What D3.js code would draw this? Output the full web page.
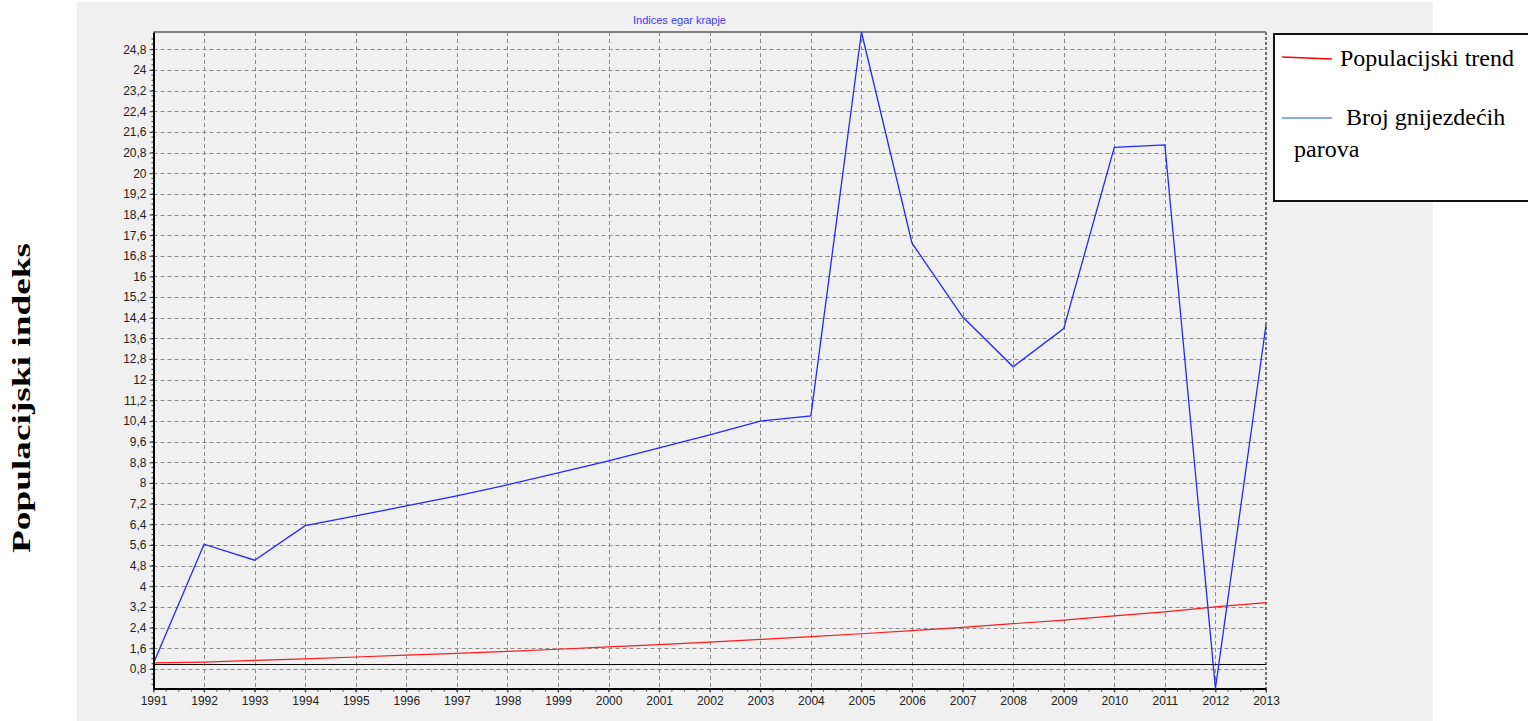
<!DOCTYPE html>
<html>
<head>
<meta charset="utf-8">
<script src="https://cdn.jsdelivr.net/npm/d3@7"></script>
<style>
  html, body { margin: 0; padding: 0; background: #ffffff; }
  svg { display: block; }
</style>
</head>
<body>
<svg id="chart" width="1528" height="721"></svg>
<script>
// ---- data ----
const years = [1991,1992,1993,1994,1995,1996,1997,1998,1999,2000,2001,2002,2003,2004,2005,2006,2007,2008,2009,2010,2011,2012,2013];
const nestingPairs = [1.02,5.63,5.01,6.35,6.73,7.11,7.50,7.93,8.39,8.86,9.36,9.86,10.40,10.60,25.47,17.29,14.44,12.50,13.98,21.00,21.10,0.04,14.12];
const trend = [1.03,1.06,1.13,1.19,1.26,1.33,1.40,1.48,1.56,1.65,1.74,1.84,1.94,2.05,2.16,2.28,2.41,2.55,2.69,2.85,3.01,3.20,3.37];
const yTicks = [0.8,1.6,2.4,3.2,4,4.8,5.6,6.4,7.2,8,8.8,9.6,10.4,11.2,12,12.8,13.6,14.4,15.2,16,16.8,17.6,18.4,19.2,20,20.8,21.6,22.4,23.2,24,24.8];
const baseline = 1.0;
const title = "Indices egar krapje";
const yTitle = "Populacijski indeks";
const legendTrend = "Populacijski trend";
const legendPairs1 = " Broj gnijezdećih";
const legendPairs2 = "parova";

// ---- layout ----
const svg = d3.select("#chart");
const L = 153.5, R = 1266, T = 32, B = 688.5;

svg.append("rect").attr("x", 77).attr("y", 2).attr("width", 1356).attr("height", 719).attr("fill", "#f0f0f0");

const x = d3.scaleLinear().domain(d3.extent(years)).range([L, R]);
const y = d3.scaleLinear().domain(d3.extent(nestingPairs)).range([B, T]);

// grid
const grid = svg.append("g").attr("stroke", "#8a8a8a").attr("stroke-width", 1).attr("stroke-dasharray", "4,3").attr("fill", "none");
grid.selectAll("line.h").data(yTicks).join("line")
  .attr("x1", L).attr("x2", R)
  .attr("y1", d => Math.round(y(d)) + 0.5).attr("y2", d => Math.round(y(d)) + 0.5);
grid.selectAll("line.v").data(years.slice(1, -1)).join("line")
  .attr("y1", T).attr("y2", B)
  .attr("x1", d => Math.round(x(d)) + 0.5).attr("x2", d => Math.round(x(d)) + 0.5);

// right border dashed, top border solid
svg.append("line").attr("x1", R).attr("x2", R).attr("y1", T).attr("y2", B)
  .attr("stroke", "#707070").attr("stroke-width", 2).attr("stroke-dasharray", "3,2");
svg.append("line").attr("x1", L).attr("x2", R).attr("y1", T).attr("y2", T)
  .attr("stroke", "#808080").attr("stroke-width", 2);

// baseline at 1.0
svg.append("line").attr("x1", L).attr("x2", R)
  .attr("y1", Math.round(y(baseline)) + 0.5).attr("y2", Math.round(y(baseline)) + 0.5)
  .attr("stroke", "#000").attr("stroke-width", 1);

// lines
const line = d3.line().x((d, i) => x(years[i])).y(d => y(d));
svg.append("path").datum(trend).attr("d", line)
  .attr("fill", "none").attr("stroke", "#ff1a1a").attr("stroke-width", 1.2);
svg.append("path").datum(nestingPairs).attr("d", line)
  .attr("fill", "none").attr("stroke", "#2626ff").attr("stroke-width", 1.3);

// minor ticks
const minorX = d3.range(years[0], years[years.length - 1] + 0.001, 0.25);
svg.append("g").selectAll("line").data(minorX).join("line")
  .attr("x1", d => x(d)).attr("x2", d => x(d)).attr("y1", B).attr("y2", B + 3)
  .attr("stroke", "#333").attr("stroke-width", 1);
const minorY = d3.range(0.2, 25.4, 0.2);
svg.append("g").selectAll("line").data(minorY).join("line")
  .attr("y1", d => y(d)).attr("y2", d => y(d)).attr("x1", L - 2).attr("x2", L)
  .attr("stroke", "#333").attr("stroke-width", 1);

// axes
const fmt = d => String(d).replace(".", ",");
const yAxis = svg.append("g").attr("transform", `translate(${L},0)`)
  .call(d3.axisLeft(y).tickValues(yTicks).tickFormat(fmt).tickSize(4).tickPadding(3).tickSizeOuter(0));
yAxis.select(".domain").attr("stroke", "#000").attr("stroke-width", 2);
yAxis.selectAll(".tick line").attr("stroke", "#333");
yAxis.selectAll(".tick text").attr("font-family", "'Liberation Sans', Arial, sans-serif").attr("font-size", 12).attr("fill", "#222");

const xAxis = svg.append("g").attr("transform", `translate(0,${B})`)
  .call(d3.axisBottom(x).tickValues(years).tickFormat(d3.format("d")).tickSize(4).tickPadding(4).tickSizeOuter(0));
xAxis.select(".domain").attr("stroke", "#000").attr("stroke-width", 2);
xAxis.selectAll(".tick line").attr("stroke", "#333");
xAxis.selectAll(".tick text").attr("font-family", "'Liberation Sans', Arial, sans-serif").attr("font-size", 12).attr("fill", "#222");

// title
svg.append("text").attr("x", 633).attr("y", 24).text(title)
  .attr("font-family", "'Liberation Sans', Arial, sans-serif").attr("font-size", 11).attr("fill", "#3a3aff");

// y title
svg.append("text").attr("transform", "translate(30,398) rotate(-90)")
  .attr("text-anchor", "middle").text(yTitle)
  .attr("font-family", "'Liberation Serif', 'Times New Roman', serif").attr("font-weight", "bold")
  .attr("font-size", 25).attr("textLength", 310).attr("lengthAdjust", "spacingAndGlyphs").attr("fill", "#000");

// legend
const lg = svg.append("g");
lg.append("rect").attr("x", 1274).attr("y", 34).attr("width", 270).attr("height", 167)
  .attr("fill", "#fff").attr("stroke", "#111").attr("stroke-width", 2);
lg.append("line").attr("x1", 1282).attr("x2", 1332).attr("y1", 57).attr("y2", 59).attr("stroke", "#ff0000").attr("stroke-width", 1.5);
lg.append("line").attr("x1", 1282).attr("x2", 1332).attr("y1", 118).attr("y2", 118).attr("stroke", "#5b8fe0").attr("stroke-width", 1.5);
const lf = "'Liberation Serif', 'Times New Roman', serif";
lg.append("text").attr("x", 1340).attr("y", 66).text(legendTrend).attr("font-family", lf).attr("font-size", 24).attr("fill", "#000");
lg.append("text").attr("x", 1340).attr("y", 125).attr("xml:space", "preserve").style("white-space", "pre").text(legendPairs1).attr("font-family", lf).attr("font-size", 24).attr("fill", "#000");
lg.append("text").attr("x", 1294).attr("y", 157).text(legendPairs2).attr("font-family", lf).attr("font-size", 24).attr("fill", "#000");
</script>
</body>
</html>
